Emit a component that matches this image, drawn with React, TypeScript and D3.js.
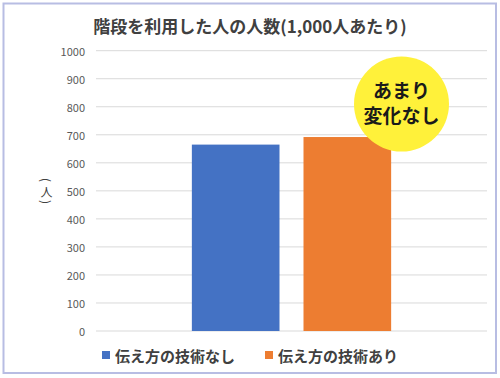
import React from "react";
import * as d3 from "d3";

const categories = [""];
const seriesNames = ["伝え方の技術なし", "伝え方の技術あり"];
const seriesValues = [665, 692];
const seriesColors = ["#4472c4", "#ed7d31"];
const yTicks = [0, 100, 200, 300, 400, 500, 600, 700, 800, 900, 1000];
const titleText = "階段を利用した人の人数(1,000人あたり)";
const calloutLines = ["あまり", "変化なし"];

const W = 500;
const H = 378;
const FONT = "'Noto Sans CJK JP', 'Noto Sans', sans-serif";

export default function App() {
  const left = 96, right = 487, top = 50.7, bottom = 331;
  const y = d3.scaleLinear().domain([0, 1000]).range([bottom, top]);
  const x0 = d3.scaleBand<string>().domain(categories).range([left, right]).paddingInner(0).paddingOuter(0.481);
  const x1 = d3.scaleBand<string>().domain(seriesNames).range([0, x0.bandwidth()]).paddingInner(0.215).paddingOuter(0);

  return (
    <svg width={W} height={H} style={{ position: "absolute", left: 0, top: 0, display: "block" }} fontFamily={FONT}>
      <rect x={0} y={0} width={W} height={H} fill="#ffffff" />
      <rect x={3.5} y={3.5} width={492.5} height={369.5} fill="none" stroke="#b8bde3" strokeWidth={2} />
      <text x={250} y={25} textAnchor="middle" dominantBaseline="central" fontSize={17} fontWeight={600} fill="#404040">
        {titleText}
      </text>
      {yTicks.map((t) => (
        <g key={t}>
          <line x1={left} x2={right} y1={y(t)} y2={y(t)} stroke="#d9d9d9" strokeWidth={1} />
          <text x={85} y={y(t)} textAnchor="end" dominantBaseline="central" fontSize={11} fill="#595959">
            {t}
          </text>
        </g>
      ))}
      <g fill="#404040" fontSize={12} textAnchor="middle">
        <text transform="translate(46.5,180) rotate(90)" dominantBaseline="central">(</text>
        <text x={46.5} y={191} dominantBaseline="central">人</text>
        <text transform="translate(46.5,202) rotate(90)" dominantBaseline="central">)</text>
      </g>
      {categories.map((c) => (
        <g key={c} transform={`translate(${x0(c)},0)`}>
          {seriesNames.map((s, i) => (
            <rect key={s} x={x1(s)} y={y(seriesValues[i])} width={x1.bandwidth()} height={y(0) - y(seriesValues[i])} fill={seriesColors[i]} />
          ))}
        </g>
      ))}
      <circle cx={401.5} cy={104} r={47.5} fill="#fff13a" />
      {calloutLines.map((l, i) => (
        <text key={l} x={401.5} y={89 + i * 25.5} textAnchor="middle" dominantBaseline="central" fontSize={19} fontWeight={700} fill="#1a1a1a">
          {l}
        </text>
      ))}
      {seriesNames.map((s, i) => {
        const lx = i === 0 ? 102 : 265;
        return (
          <g key={s}>
            <rect x={lx} y={351} width={8} height={8} fill={seriesColors[i]} />
            <text x={lx + 13} y={355} dominantBaseline="central" fontSize={15} fontWeight={600} fill="#404040">
              {s}
            </text>
          </g>
        );
      })}
    </svg>
  );
}
